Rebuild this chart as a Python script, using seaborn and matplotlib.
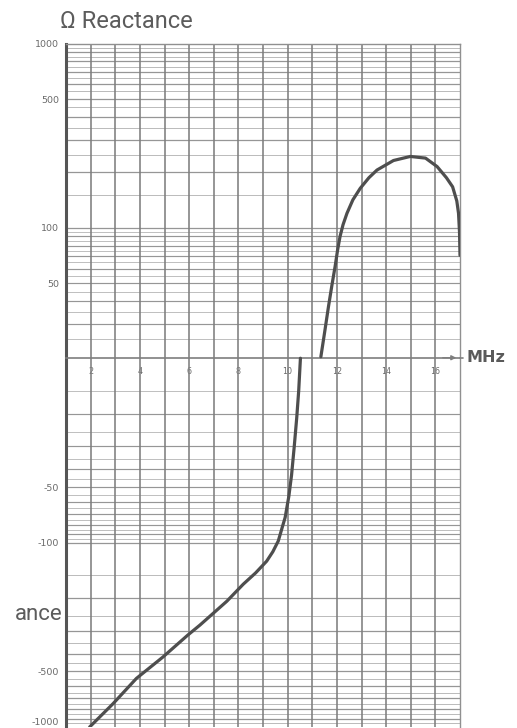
import numpy as np
import pandas as pd
import matplotlib
matplotlib.use("Agg")
import matplotlib.pyplot as plt
import seaborn as sns

# Reactance curve of the antenna, read in two branches either side of resonance
freq_cap = [1.96, 2.9, 3.86, 4.93, 5.95, 6.44, 7.53, 8.2, 8.7, 9.15, 9.4, 9.62, 9.8, 9.9,
            10.05, 10.16, 10.27, 10.37, 10.45, 10.52]
react_cap = [-1000, -750, -545, -418, -317, -280, -208, -168, -146, -126, -112, -98, -81, -73,
             -56, -43, -30, -21, -15, -10]
freq_ind = [11.35, 11.5, 11.66, 11.8, 11.93, 12.03, 12.13, 12.25, 12.41, 12.65, 12.95, 13.3,
            13.63, 14.3, 14.98, 15.6, 16.07, 16.45, 16.7, 16.87, 16.94, 16.98, 17.0]
react_ind = [20, 27, 37.5, 49, 62, 76, 90, 104, 120, 142, 164, 187,
             206, 232, 244, 239, 215, 187, 167, 140, 120, 95, 71]

y_tick_values = [1000, 500, 100, 50, -50, -100, -500, -1000]
y_tick_labels = ["1000", "500", "100", "50", "-50", "-100", "-500", "-1000"]
x_tick_values = [2, 4, 6, 8, 10, 12, 14, 16]

df = pd.DataFrame({
    "freq": freq_cap + freq_ind,
    "reactance": react_cap + react_ind,
    "branch": ["cap"] * len(freq_cap) + ["ind"] * len(freq_ind),
})

# Split logarithmic scale: +20..+1000 above the frequency axis, -10..-1000 below it
D = 0.004
POS0, NEG0 = 20.0, 10.0


def fwd(y):
    y = np.asarray(y, dtype=float)
    with np.errstate(all="ignore"):
        pos = np.log10(np.maximum(y, POS0) / POS0) + D
        neg = -np.log10(np.maximum(-y, NEG0) / NEG0) - D
        mid = -D + (y + NEG0) / (POS0 + NEG0) * 2 * D
    return np.where(y >= POS0, pos, np.where(y <= -NEG0, neg, mid))


def inv(p):
    p = np.asarray(p, dtype=float)
    pc = np.clip(p, -20, 20)
    with np.errstate(all="ignore"):
        pos = POS0 * 10 ** (pc - D)
        neg = -NEG0 * 10 ** (-(pc + D))
        mid = (pc + D) / (2 * D) * (POS0 + NEG0) - NEG0
    return np.where(p >= D, pos, np.where(p <= -D, neg, mid))


sns.set_style("white")
plt.rcParams["font.family"] = ["DejaVu Sans"]

fig = plt.figure(figsize=(5.17, 7.28), dpi=100)
ax = fig.add_axes([66 / 517, 1 / 728, 394 / 517, 683.5 / 728])

sns.lineplot(data=df, x="freq", y="reactance", units="branch", estimator=None,
             sort=False, color="#4e4e4e", lw=2.3, ax=ax, zorder=5)
for line in ax.lines:
    line.set_solid_joinstyle("round")
    line.set_solid_capstyle("round")

ax.set_yscale("function", functions=(fwd, inv))
ax.set_xlim(1, 17)
ax.set_ylim(-1000, 1000)
ax.set_xlabel("")
ax.set_ylabel("")

# Graph-paper rulings
dark_h, light_h = "#969696", "#bababa"
for sign, start in ((1, 25), (-1, 15)):
    for v in range(start, 100, 5):
        ax.axhline(sign * v, color=dark_h if v % 10 == 0 else light_h,
                   lw=0.85 if v % 10 == 0 else 0.65, zorder=1)
    for v in range(100, 1000, 50):
        if v == 100 or v % 100 == 0:
            ax.axhline(sign * v, color=dark_h, lw=0.9, zorder=1)
        else:
            ax.axhline(sign * v, color=light_h, lw=0.7, zorder=1)
for xv in range(2, 17):
    ax.axvline(xv, color="#7e7e7e", lw=1.15, zorder=2)

# Axes frame
for side in ("top", "right"):
    ax.spines[side].set_color("#909090")
    ax.spines[side].set_linewidth(1.0)
ax.spines["left"].set_color("#555555")
ax.spines["left"].set_linewidth(2.2)
ax.spines["bottom"].set_position(("data", 0))
ax.spines["bottom"].set_color("#7e7e7e")
ax.spines["bottom"].set_linewidth(1.2)
ax.spines["bottom"].set_zorder(3)

ax.set_yticks(y_tick_values)
ax.set_yticklabels(y_tick_labels)
ax.set_xticks(x_tick_values)
ax.set_xticklabels([str(v) for v in x_tick_values])
ax.tick_params(axis="y", direction="out", length=4, width=0.9, color="#7e7e7e",
               labelcolor="#6a6a6a", labelsize=6.8, pad=1)
ax.tick_params(axis="x", direction="out", length=5, width=1.1, color="#6e6e6e",
               labelcolor="#6a6a6a", labelsize=5.8, pad=2)
ax.minorticks_off()
# keep the bottom label inside the sheet
ax.get_yticklabels()[-1].set_verticalalignment("bottom")

# Frequency axis arrow and unit
ax.annotate("", xy=(16.85, 0), xytext=(16.3, 0),
            arrowprops=dict(arrowstyle="-|>", color="#7e7e7e", lw=1.0,
                            mutation_scale=7, shrinkA=0, shrinkB=0), zorder=4)
ax.plot([17.0, 17.12], [0, 0], color="#7e7e7e", lw=1.2, clip_on=False)
ax.text(17.25, 0, "MHz", fontsize=11.5, fontweight="bold", color="#5a5a5a",
        va="center", ha="left", family=["DejaVu Sans"])

# Titles
fig.text(60 / 517, 1 - 28 / 728, "\u03a9 Reactance", fontsize=17,
         color="#5c5c5c", ha="left", va="baseline",
         family=["Roboto", "DejaVu Sans"])
fig.text(15 / 517, 1 - 620 / 728, "ance", fontsize=16,
         color="#5c5c5c", ha="left", va="baseline",
         family=["Roboto", "DejaVu Sans"])

fig.savefig("out.png", dpi=100, facecolor="white")
